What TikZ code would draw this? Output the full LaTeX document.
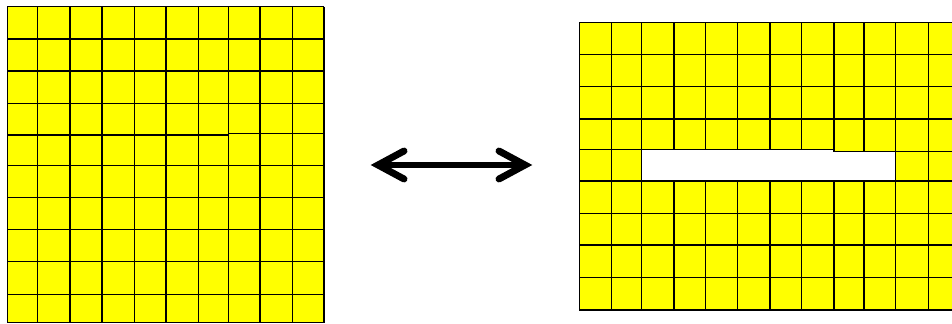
\documentclass[tikz,border=0pt]{standalone}
\begin{document}
\begin{tikzpicture}[x=0.75pt,y=-0.75pt,
  gridline/.style={black, line width=1pt},
  cellfill/.style={fill={rgb,255:red,255;green,255;blue,0}},
  arrowline/.style={black, line width=5.2pt, line cap=round, line join=miter}]
\useasboundingbox (0,0) rectangle (952,324);
\begin{scope}
\clip (0,0) rectangle (952,324);
% ---- left grid ----
\fill[cellfill] (7.3,6.7) rectangle (324,322.7);
\foreach \x in {7.3,37.3,70,102,134.3,166,198.3,228.3,260,292.3,324}
  \draw[gridline] (\x,6.7) -- (\x,322.7);
\foreach \y in {6.7,39,71,103.3,165.3,197.3,229.3,261.7,294.3,322.7}
  \draw[gridline] (7.3,\y) -- (324,\y);
\draw[gridline] (7.3,135) -- (228.3,135) -- (228.3,133.5) -- (324,133.5);
% ---- right grid ----
\fill[cellfill] (579.3,22.7) rectangle (960,310);
\fill[white] (641.7,149.5) -- (834,149.5) -- (834,151.7) -- (895.7,151.7)
  -- (895.7,181) -- (641.7,181) -- cycle;
\foreach \x in {579.3,611.7,641.7,895.7,928.3}
  \draw[gridline] (\x,22.7) -- (\x,310);
\foreach \x in {674,705.7,737.7,770,801.7}
  {\draw[gridline] (\x,22.7) -- (\x,149.5);
   \draw[gridline] (\x,181) -- (\x,310);}
\foreach \x in {834,864}
  {\draw[gridline] (\x,22.7) -- (\x,151.7);
   \draw[gridline] (\x,181) -- (\x,310);}
\foreach \y in {22.7,54.3,86.7,119,181,213.3,245,277.7,310}
  \draw[gridline] (579.3,\y) -- (960,\y);
\draw[gridline] (579.3,149.5) -- (834,149.5) -- (834,151.7) -- (960,151.7);
\end{scope}
% ---- double arrow ----
\coordinate (al) at (378,165);
\coordinate (ar) at (525,165);
\draw[arrowline] (al) -- (ar);
\draw[arrowline] ([shift={(26,-14)}]al) -- (al) -- ([shift={(26,14)}]al);
\draw[arrowline] ([shift={(-26,-14)}]ar) -- (ar) -- ([shift={(-26,14)}]ar);
\end{tikzpicture}
\end{document}
